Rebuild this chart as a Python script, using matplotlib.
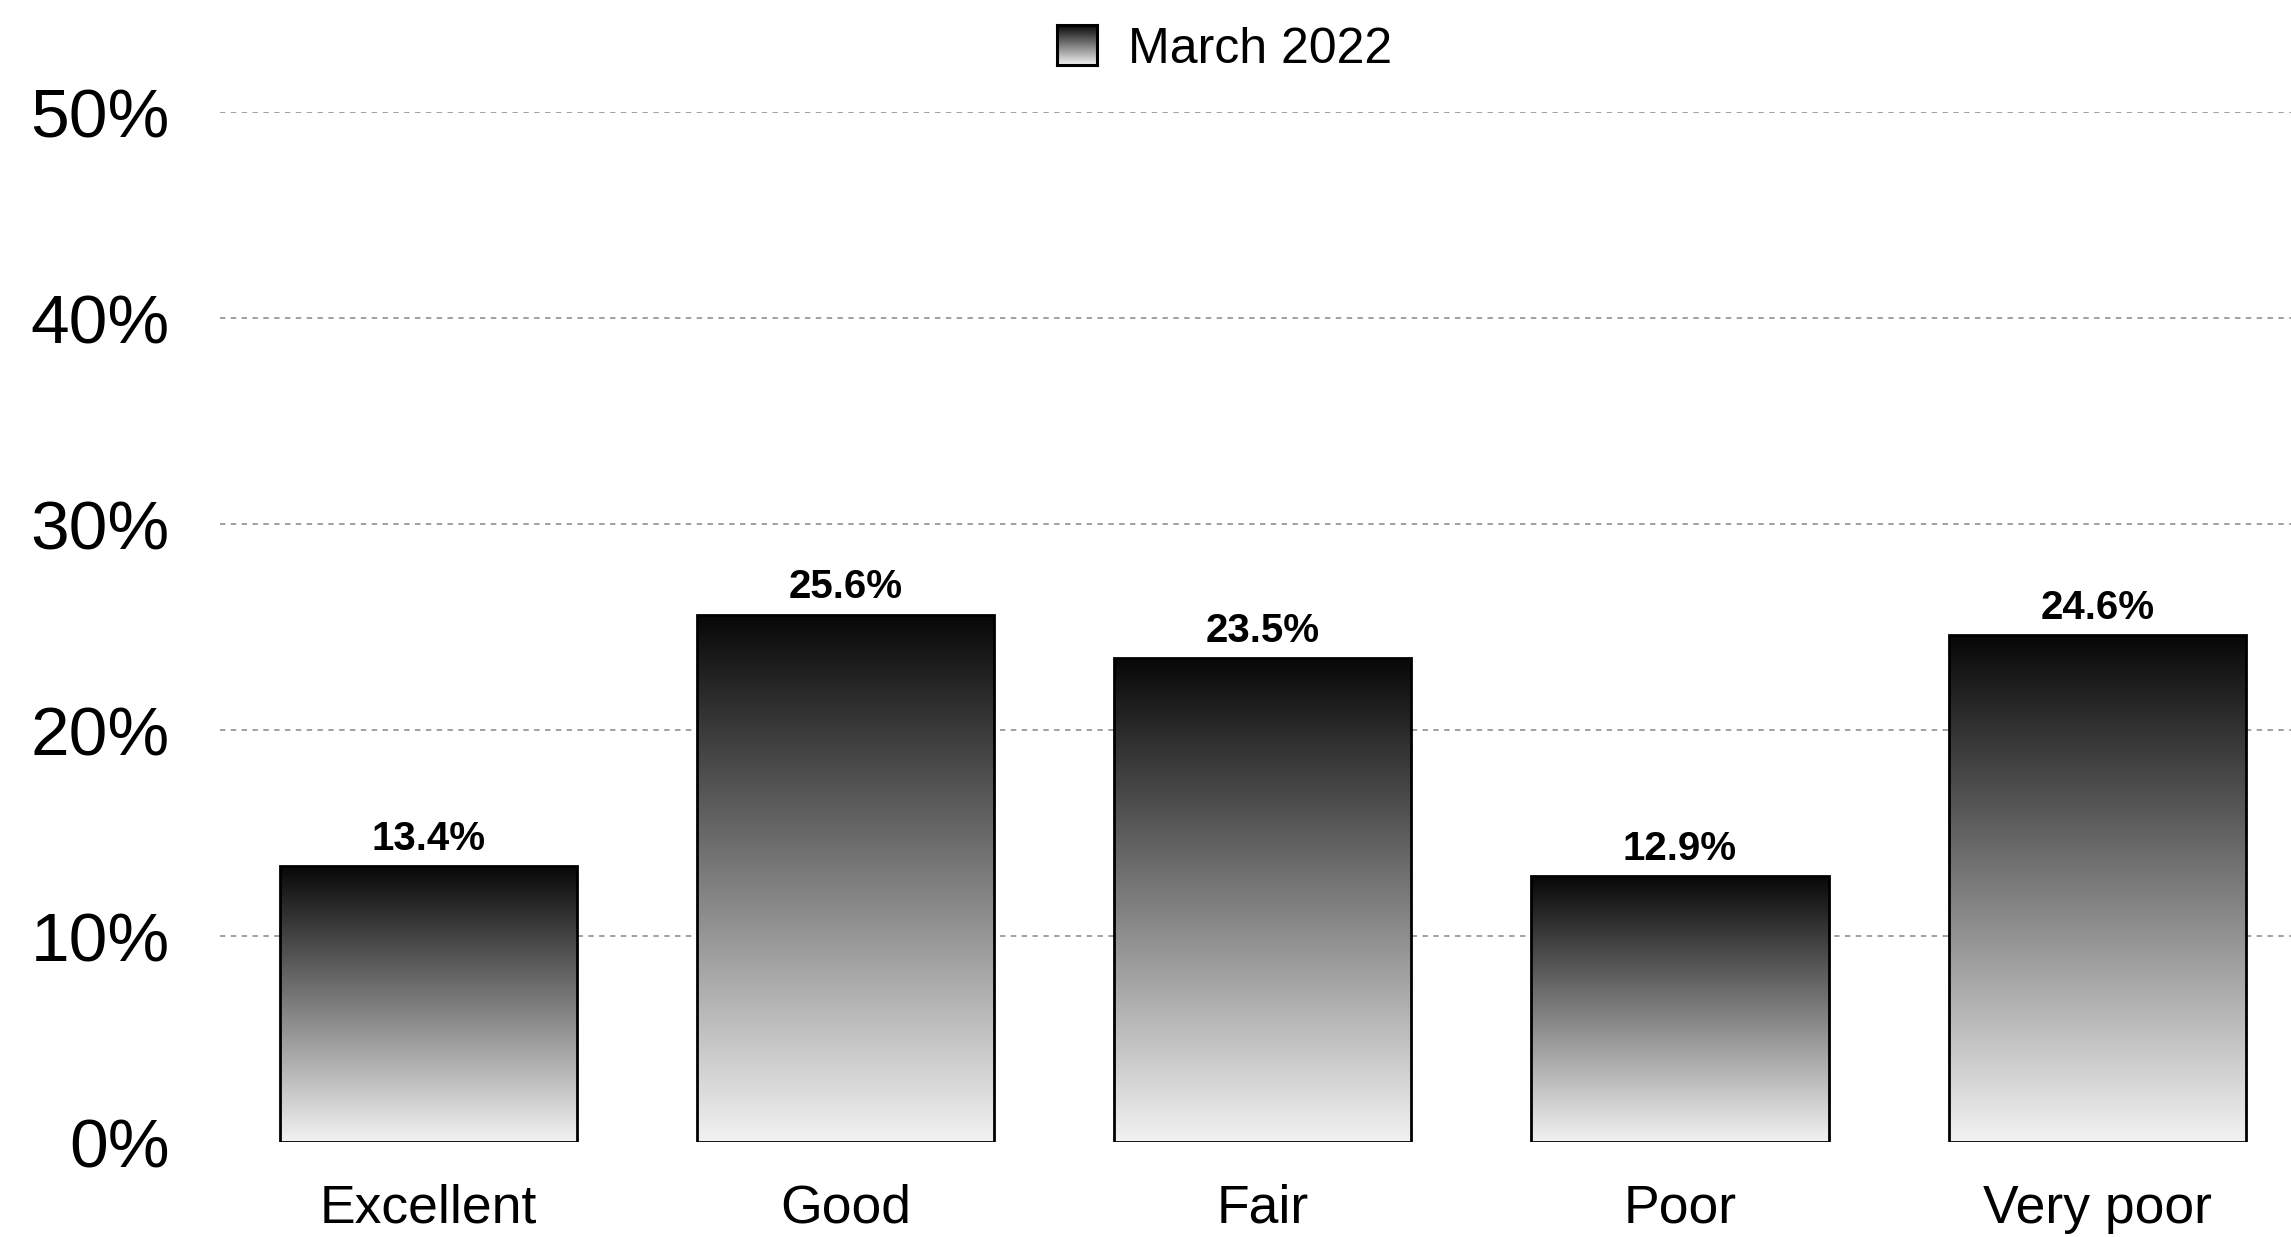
import matplotlib
matplotlib.use('Agg')
import matplotlib.pyplot as plt
from matplotlib.colors import LinearSegmentedColormap
import numpy as np

# Data
categories = ['Excellent', 'Good', 'Fair', 'Poor', 'Very poor']
values = [13.4, 25.6, 23.5, 12.9, 24.6]
series_name = 'March 2022'
yticks = [0, 10, 20, 30, 40, 50]

plt.rcParams['font.family'] = ['Liberation Sans', 'DejaVu Sans']

W, H = 2291, 1237
fig = plt.figure(figsize=(W / 100, H / 100), dpi=100)
# axes box in pixels: left 219.5, right 2306, bottom(0%) 1142, top(50%) 112
ax = fig.add_axes([219.5 / W, (H - 1142) / H, (2306 - 219.5) / W, (1142 - 112) / H])

cmap = LinearSegmentedColormap.from_list('bw', ['#f2f2f2', '#070707'])
grad = np.linspace(0, 1, 256).reshape(-1, 1)

x = np.arange(len(categories))
bars = ax.bar(x, values, width=0.712, facecolor='none', edgecolor='black',
              linewidth=2.0, zorder=3)
for b in bars:
    x0, w, h = b.get_x(), b.get_width(), b.get_height()
    im = ax.imshow(grad, extent=[x0, x0 + w, 0, h], origin='lower', aspect='auto',
                   cmap=cmap, zorder=2)
    im.set_clip_path(b)
    ax.annotate(f'{h:.1f}%', (x0 + w / 2, h), xytext=(0, 6), textcoords='offset points',
                ha='center', va='bottom', fontsize=29, fontweight='bold')

ax.set_xlim(-0.5, len(categories) - 0.5)
ax.set_ylim(0, 50)
ax.set_yticks(yticks)
ax.set_yticklabels([f'{t}%' for t in yticks], fontsize=50)
ax.set_xticks(x)
ax.set_xticklabels(categories, fontsize=38.5)
ax.tick_params(axis='y', length=0, pad=36)
ax.tick_params(axis='x', length=0, pad=30)
for s in ax.spines.values():
    s.set_visible(False)
ax.grid(axis='y', color='#999999', linestyle=(0, (3, 3)), linewidth=1.3, zorder=0)
ax.get_ygridlines()[0].set_visible(False)
ax.set_axisbelow(True)

# legend: gradient swatch + label
lax = fig.add_axes([1057 / W, 1 - 65 / H, 40 / W, 40 / H])
lax.imshow(grad, origin='lower', aspect='auto', cmap=cmap, extent=[0, 1, 0, 1])
lax.set_xticks([])
lax.set_yticks([])
for s in lax.spines.values():
    s.set_linewidth(2.2)
fig.text(1128 / W, 1 - 50 / H, series_name, fontsize=36, va='center', ha='left')

fig.savefig('out.png', dpi=100)
